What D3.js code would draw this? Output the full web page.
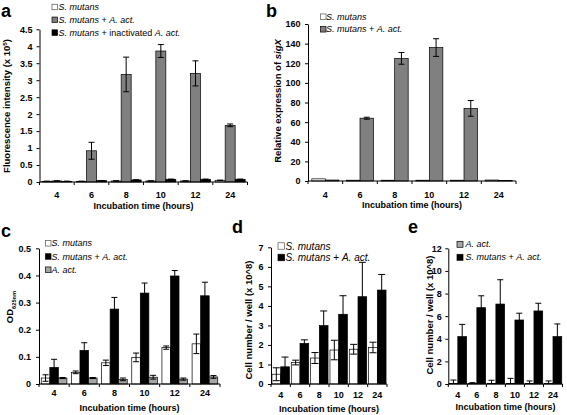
<!DOCTYPE html>
<html><head><meta charset="utf-8">
<script src="https://cdn.jsdelivr.net/npm/d3@7"></script>
<style>body{margin:0;background:#fff}svg{display:block}text{font-family:Arial,"Liberation Sans",sans-serif}</style>
</head><body>
<script>
const cats = ["4","6","8","10","12","24"];

// Panel a: Fluorescence intensity (x 10^5)
const aSm = [0.02,0.02,0.03,0.03,0.03,0.05];
const aSmErr = [0.005,0.005,0.005,0.005,0.005,0.005];
const aAct = [0.03,0.92,3.17,3.86,3.20,1.67];
const aActErr = [0.005,0.25,0.51,0.19,0.37,0.04];
const aInact = [0.02,0.04,0.06,0.08,0.08,0.08];
const aInactErr = [0.005,0.005,0.005,0.005,0.005,0.005];
const aTicks = [0,0.5,1,1.5,2,2.5,3,3.5,4,4.5];
const aTickLabels = ["0","0.5","1","1.5","2","2.5","3","3.5","4","4.5"];

// Panel b: Relative expression of sigX
const bSm = [2.2,0.8,0.8,0.8,0.8,1.0];
const bSmErr = [0,0,0,0,0,0];
const bAct = [1.0,64,125,136,74,0.5];
const bActErr = [0,1,6,9,8,0];
const bTicks = [0,20,40,60,80,100,120,140,160];
const bTickLabels = ["0","20","40","60","80","100","120","140","160"];

// Panel c: OD625nm
const cSm = [0.022,0.043,0.078,0.098,0.134,0.148];
const cSmErr = [0.012,0.005,0.01,0.016,0.006,0.036];
const cAct = [0.061,0.124,0.276,0.335,0.398,0.325];
const cActErr = [0.03,0.028,0.043,0.037,0.02,0.05];
const cAa = [0.022,0.022,0.017,0.025,0.018,0.026];
const cAaErr = [0.002,0.002,0.005,0.007,0.004,0.005];
const cTicks = [0,0.1,0.2,0.3,0.4,0.5];
const cTickLabels = ["0","0.1","0.2","0.3","0.4","0.5"];

// Panel d: Cell number / well (x 10^8)
const dSm = [0.5,1.1,1.33,1.74,1.78,1.87];
const dSmErr = [0.33,0.12,0.28,0.5,0.25,0.27];
const dAct = [0.88,2.08,2.99,3.57,4.47,4.81];
const dActErr = [0.5,0.18,0.75,0.95,1.76,0.8];
const dTicks = [0,1,2,3,4,5,6,7];
const dTickLabels = ["0","1","2","3","4","5","6","7"];

// Panel e: Cell number / well (x 10^8)
const eAa = [0.05,0.05,0.05,0.05,0.05,0.05];
const eAaErr = [0.3,0.07,0.28,0.45,0.22,0.22];
const eAct = [4.19,6.75,7.07,5.66,6.46,4.19];
const eActErr = [1.08,1.05,2.15,0.6,0.68,1.12];
const eTicks = [0,2,4,6,8,10,12];
const eTickLabels = ["0","2","4","6","8","10","12"];

const WHITE="#ffffff", GRAY="#808080", LGRAY="#a6a6a6", BLACK="#000000";

const svg = d3.select("body").append("svg").attr("width",567).attr("height",415);

function richText(sel, segs){
  segs.forEach(s=>{
    const t = sel.append("tspan").text(s.t);
    if(s.i) t.attr("font-style","italic");
    if(s.sup) t.attr("font-size","0.65em").attr("baseline-shift","super");
    if(s.sub) t.attr("font-size","0.6em").attr("baseline-shift","sub");
  });
}

function panel(c){
  const g = svg.append("g");
  const x = d3.scaleBand().domain(cats).range(c.xr).paddingInner(c.pad).paddingOuter(c.pad/2);
  const xs = d3.scaleBand().domain(d3.range(c.series.length)).range([0,x.bandwidth()]);
  const y = d3.scaleLinear().domain([0,c.ymax]).range(c.yr);
  const ay = c.yr[0];

  c.series.forEach((s,si)=>{
    g.append("g").selectAll("rect").data(s.v).join("rect")
      .attr("x",(d,i)=>x(cats[i])+xs(si))
      .attr("y",d=>y(d))
      .attr("width",xs.bandwidth())
      .attr("height",d=>ay-y(d))
      .attr("fill",s.fill).attr("stroke","#000").attr("stroke-width",0.7);
  });
  c.series.forEach((s,si)=>{
    const eg = g.append("g").attr("stroke","#000").attr("stroke-width",1).attr("fill","none");
    s.v.forEach((d,i)=>{
      const e = s.e[i]; if(!e) return;
      const cx = x(cats[i])+xs(si)+xs.bandwidth()/2;
      const lo = Math.max(0,d-e), hi = d+e;
      const cw = c.cap;
      eg.append("line").attr("x1",cx).attr("x2",cx).attr("y1",y(lo)).attr("y2",y(hi));
      eg.append("line").attr("x1",cx-cw/2).attr("x2",cx+cw/2).attr("y1",y(hi)).attr("y2",y(hi));
      if(d-e>0) eg.append("line").attr("x1",cx-cw/2).attr("x2",cx+cw/2).attr("y1",y(lo)).attr("y2",y(lo));
    });
  });

  const yAxis = d3.axisLeft(y).tickValues(c.yt).tickFormat((d,i)=>c.ytl[i]).tickSize(3).tickPadding(c.tp).tickSizeOuter(0);
  const ya = g.append("g").attr("transform",`translate(${c.xr[0]},0)`).call(yAxis);
  ya.selectAll("text").attr("font-size",9).attr("font-weight","bold").attr("fill","#000").attr("font-family","Arial, Liberation Sans");
  ya.selectAll("line,path").attr("stroke","#000");

  const xAxis = d3.axisBottom(x).tickSize(0).tickPadding(c.catY - 3.2 - ay);
  const xa = g.append("g").attr("transform",`translate(0,${ay})`).call(xAxis);
  xa.select(".domain").remove();
  xa.selectAll("text").attr("font-size",9).attr("font-weight","bold").attr("fill","#000").attr("font-family","Arial, Liberation Sans");
  g.append("line").attr("x1",c.xr[0]).attr("x2",c.xr[1]).attr("y1",ay).attr("y2",ay).attr("stroke","#000");
  d3.range(cats.length+1).forEach(i=>{
    const bx = c.xr[0] + i*x.step();
    g.append("line").attr("x1",bx).attr("x2",bx).attr("y1",ay).attr("y2",ay+3).attr("stroke","#000");
  });

  g.append("text").attr("x",(c.xr[0]+c.xr[1])/2).attr("y",c.xtY+3.3)
    .attr("text-anchor","middle").attr("font-size",9).attr("font-weight","bold").text("Incubation time (hours)");
  const yt = g.append("text").attr("transform",`translate(${c.ytX},${c.ytY}) rotate(-90)`)
    .attr("text-anchor","middle").attr("dy","0.35em").attr("font-size",c.ytFs||9.5).attr("font-weight","bold");
  richText(yt, c.ytitle);

  g.append("text").attr("x",c.letter[0]).attr("y",c.letter[1]).attr("font-size",18).attr("font-weight","bold").text(c.letter[2]);

  const L = c.legend;
  L.items.forEach((it,i)=>{
    const cy = L.y + i*L.dy;
    g.append("rect").attr("x",L.x).attr("y",cy-L.s/2).attr("width",L.s).attr("height",L.s)
      .attr("fill",it.fill).attr("stroke",it.fill===WHITE?"#555":"#000").attr("stroke-width",0.7);
    const t = g.append("text").attr("x",L.tx).attr("y",cy).attr("dy","0.35em").attr("font-size",L.fs);
    richText(t,it.segs);
  });
}

const SM = {t:"S. mutans", i:true};
const PLUS = {t:" + "};
const AA = {t:"A. act.", i:true};

panel({
  xr:[39.5,247.5], yr:[182,29.3], ymax:4.5, yt:aTicks, ytl:aTickLabels, pad:0.135, cap:6, tp:4,
  series:[{v:aSm,e:aSmErr,fill:WHITE},{v:aAct,e:aActErr,fill:GRAY},{v:aInact,e:aInactErr,fill:BLACK}],
  catY:194.5, xtY:206, ytX:7, ytY:106,
  ytitle:[{t:"Fluorescence intensity (x 10"},{t:"5",sup:true},{t:")"}],
  letter:[1,17,"a"],
  legend:{x:52,tx:58.5,y:7,dy:12.8,s:5.5,fs:9,items:[
    {fill:WHITE,segs:[SM]},
    {fill:GRAY,segs:[SM,PLUS,AA]},
    {fill:BLACK,segs:[SM,{t:" + inactivated "},AA]}]}
});

panel({
  xr:[308,516], yr:[181,24], ymax:160, yt:bTicks, ytl:bTickLabels, pad:0.22, cap:6, tp:4.5,
  series:[{v:bSm,e:bSmErr,fill:WHITE},{v:bAct,e:bActErr,fill:GRAY}],
  catY:194.5, xtY:205, ytX:278, ytY:101,
  ytitle:[{t:"Relative expression of "},{t:"sigX",i:true}],
  letter:[266,17,"b"],
  legend:{x:320.5,tx:326,y:16.7,dy:12.6,s:5.5,fs:9,items:[
    {fill:WHITE,segs:[SM]},
    {fill:GRAY,segs:[SM,PLUS,AA]}]}
});

panel({
  xr:[39,220], yr:[384,248.3], ymax:0.5, yt:cTicks, ytl:cTickLabels, pad:0.15, cap:6, tp:5,
  series:[{v:cSm,e:cSmErr,fill:WHITE},{v:cAct,e:cActErr,fill:BLACK},{v:cAa,e:cAaErr,fill:LGRAY}],
  catY:392.5, xtY:407.5, ytX:10, ytY:307,
  ytitle:[{t:"OD"},{t:"625nm",sub:true}],
  letter:[1,237,"c"],
  legend:{x:45.5,tx:51.5,y:243.3,dy:13.2,s:5.5,fs:9,items:[
    {fill:WHITE,segs:[SM]},
    {fill:BLACK,segs:[SM,PLUS,AA]},
    {fill:LGRAY,segs:[AA]}]}
});

panel({
  xr:[271,387], yr:[384,247.3], ymax:7, yt:dTicks, ytl:dTickLabels, pad:0.1, cap:7, tp:4.5,
  series:[{v:dSm,e:dSmErr,fill:WHITE},{v:dAct,e:dActErr,fill:BLACK}],
  catY:394.5, xtY:408.5, ytX:248.5, ytY:320,
  ytitle:[{t:"Cell number / well (x 10^8)"}],
  letter:[232,233,"d"],
  legend:{x:278,tx:285.5,y:246,dy:11.5,s:6.5,fs:10,items:[
    {fill:WHITE,segs:[SM]},
    {fill:BLACK,segs:[SM,PLUS,AA]}]}
});

panel({
  xr:[448.3,562.5], yr:[384,248.3], ymax:12, yt:eTicks, ytl:eTickLabels, pad:0.08, cap:6, tp:3.5,
  series:[{v:eAa,e:eAaErr,fill:LGRAY},{v:eAct,e:eActErr,fill:BLACK}],
  catY:394.5, xtY:406.5, ytX:429.5, ytY:315,
  ytitle:[{t:"Cell number / well (x 10^8)"}],
  letter:[408,233,"e"],
  legend:{x:457,tx:465.5,y:244.3,dy:13,s:6,fs:9,items:[
    {fill:LGRAY,segs:[AA]},
    {fill:BLACK,segs:[SM,PLUS,AA]}]}
});
</script>
</body></html>
